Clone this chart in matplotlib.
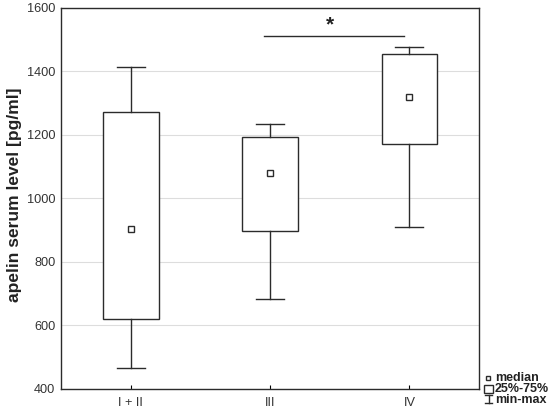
import numpy as np
import matplotlib.pyplot as plt
from matplotlib.lines import Line2D
from matplotlib.patches import Rectangle

plt.rcParams['font.family'] = ['Liberation Sans', 'DejaVu Sans']

# groups | min | Q1 | median | Q3 | max
groups = ['I + II', 'III', 'IV']
mins = [466, 684, 910]
q1 = [620, 898, 1172]
medians = [904, 1080, 1320]
q3 = [1272, 1194, 1455]
maxs = [1414, 1235, 1477]

stats = []
for i in range(len(groups)):
    stats.append({'whislo': mins[i], 'q1': q1[i], 'med': medians[i],
                  'q3': q3[i], 'whishi': maxs[i], 'label': groups[i]})

dark = '#2b2b2b'
fig = plt.figure(figsize=(5.5, 4.16), dpi=100)
ax = fig.add_axes([0.111, 0.065, 0.76, 0.916])

ax.bxp(stats, positions=[1, 2, 3], widths=0.4, showfliers=False,
       patch_artist=True,
       boxprops=dict(facecolor='white', edgecolor=dark, linewidth=1),
       whiskerprops=dict(color=dark, linewidth=1),
       capprops=dict(color=dark, linewidth=1),
       medianprops=dict(linewidth=0),
       capwidths=0.2)
ax.plot([1, 2, 3], medians, ls='none', marker='s', ms=4, mfc='white',
        mec=dark, mew=1, zorder=5)

ax.set_xlim(0.5, 3.5)
ax.set_ylim(400, 1600)
ax.set_yticks([400, 600, 800, 1000, 1200, 1400, 1600])
ax.grid(axis='y', color='#dddddd', linewidth=0.8)
ax.set_axisbelow(True)
ax.tick_params(axis='y', length=0, labelsize=9.2, labelcolor='#333333', pad=4)
ax.tick_params(axis='x', direction='in', length=3, labelsize=9.2,
               labelcolor='#333333', pad=6)
for s in ax.spines.values():
    s.set_color(dark)
    s.set_linewidth(1)
ax.set_ylabel('apelin serum level [pg/ml]', fontsize=12.5, fontweight='bold',
              color='#222222')
ax.yaxis.set_label_coords(-0.094, 0.51)

# significance bar
ax.plot([1.96, 2.96], [1512, 1512], color=dark, linewidth=1)
ax.text(2.43, 1545, '*', ha='center', va='center', fontsize=15,
        fontweight='bold', color='#222222')

# legend drawn in figure coordinates
W, H = 550, 416
def fx(px):
    return px / W
def fy(py):
    return 1 - py / H

fig.add_artist(Line2D([fx(488)], [fy(378)], marker='s', ms=3.5, mfc='white',
                      mec=dark, mew=1, transform=fig.transFigure))
fig.add_artist(Rectangle((fx(484), fy(393)), 9 / W, 8 / H, fill=False,
                         edgecolor=dark, linewidth=1, transform=fig.transFigure))
fig.add_artist(Line2D([fx(488.5), fx(488.5)], [fy(395), fy(403)], color=dark,
                      lw=1, transform=fig.transFigure))
fig.add_artist(Line2D([fx(485), fx(492)], [fy(395), fy(395)], color=dark,
                      lw=1, transform=fig.transFigure))
fig.add_artist(Line2D([fx(485), fx(492)], [fy(403), fy(403)], color=dark,
                      lw=1, transform=fig.transFigure))
for txt, py in [('median', 378), ('25%-75%', 389), ('min-max', 400)]:
    fig.text(fx(495), fy(py), txt, fontsize=9, fontweight='bold',
             color='#222222', va='center', ha='left')

fig.savefig('out.png', dpi=100)
